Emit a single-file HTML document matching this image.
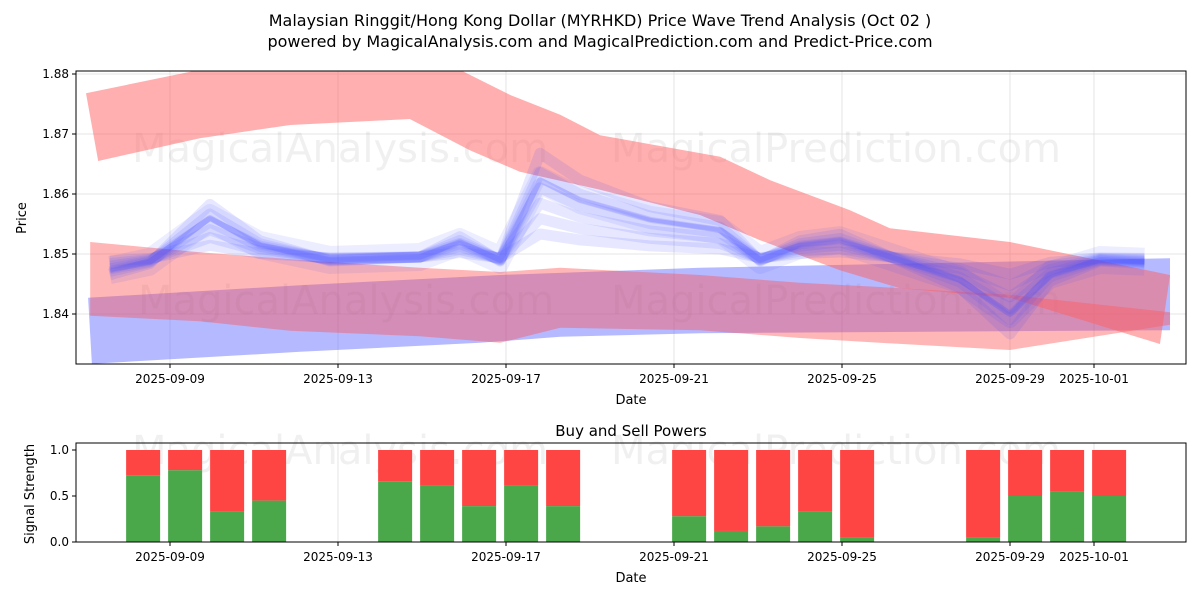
<!DOCTYPE html>
<html><head><meta charset="utf-8"><style>
body{margin:0;background:#fff;font-family:"Liberation Sans","DejaVu Sans",sans-serif}
svg text{font-family:"DejaVu Sans","Liberation Sans",sans-serif}
</style></head><body>
<svg id="c" width="1200" height="600" xmlns="http://www.w3.org/2000/svg">
<text x="600" y="26" text-anchor="middle" font-size="16">Malaysian Ringgit/Hong Kong Dollar (MYRHKD) Price Wave Trend Analysis (Oct 02 )</text>
<text x="600" y="47" text-anchor="middle" font-size="16">powered by MagicalAnalysis.com and MagicalPrediction.com and Predict-Price.com</text>
<g id="topg"></g>
<g id="botg"></g>
</svg>
<script>
const xTickLabels=["2025-09-09","2025-09-13","2025-09-17","2025-09-21","2025-09-25","2025-09-29","2025-10-01"];
const xTickDays=[0,4,8,12,16,20,22];
const yTicks=[1.84,1.85,1.86,1.87,1.88];
const redTopUpper=[[-2,1.8768],[0.71,1.8807],[6.9,1.8807],[8.1,1.8765],[9.29,1.8732],[10.24,1.8698],[13.1,1.8662],[14.29,1.8623],[16.19,1.8573],[17.14,1.8543],[20,1.852],[23.81,1.8465]];
const redTopLower=[[-1.71,1.8655],[0.71,1.8693],[2.86,1.8715],[5.71,1.8725],[7.14,1.8673],[8.33,1.8637],[10.24,1.8607],[12.62,1.8565],[14.05,1.8523],[15.95,1.8473],[17.38,1.8443],[20,1.8427],[23.57,1.835]];
const redLowUpper=[[-1.9,1.852],[0.71,1.8503],[3.1,1.849],[5.95,1.8477],[7.86,1.847],[9.29,1.8477],[12.62,1.8465],[15,1.8452],[16.9,1.8445],[20,1.8432],[23.81,1.8403]];
const redLowLower=[[-1.9,1.8397],[0.71,1.8388],[2.86,1.8372],[5.95,1.8363],[7.86,1.8352],[9.29,1.8377],[12.62,1.8373],[15,1.836],[16.9,1.8352],[20,1.834],[23.81,1.8382]];
const blueUpper=[[-1.95,1.8427],[3.1,1.8448],[7.86,1.8465],[12.62,1.8477],[23.81,1.8493]];
const blueLower=[[-1.86,1.8317],[3.1,1.8337],[7.38,1.8352],[9.29,1.8362],[12.62,1.8368],[23.81,1.8373]];
const waveDays=[-1.43,-0.48,0.95,2.14,3.81,5.95,6.9,7.86,8.81,9.76,11.43,13.1,14.05,15,15.95,17.38,18.81,20,20.95,22.14,23.2];
const waveVals=[1.8473,1.8487,1.856,1.8515,1.849,1.8495,1.852,1.849,1.8623,1.859,1.8557,1.854,1.849,1.8515,1.8523,1.849,1.8457,1.840,1.8465,1.849,1.8487];
const barDays=[-0.64,0.36,1.36,2.36,5.36,6.36,7.36,8.36,9.36,12.36,13.36,14.36,15.36,16.36,19.36,20.36,21.36,22.36];
const buyVals=[0.72,0.78,0.33,0.45,0.66,0.61,0.39,0.61,0.39,0.28,0.12,0.17,0.33,0.05,0.05,0.5,0.55,0.5];
const sigTicks=[0,0.5,1.0];

const NS="http://www.w3.org/2000/svg";
const L=76,R=1186,T=71,B=364,BT=443,BB=542;
const X=d=>170+42*d;
const Y=p=>314-(p-1.84)*6000;
const YB=v=>542-v*92;
function mk(tag,attrs,parent){const e=document.createElementNS(NS,tag);for(const k in attrs)e.setAttribute(k,attrs[k]);parent.appendChild(e);return e;}
const topG=document.getElementById('topg'),botG=document.getElementById('botg');
const defs=mk('defs',{},topG);
const cp=mk('clipPath',{id:'cp'},defs);mk('rect',{x:L,y:T,width:R-L,height:B-T},cp);

function frame(g,y0,y1){
  xTickDays.forEach((d,i)=>{
    const gl=mk('line',{x1:X(d),x2:X(d),y1:y0,y2:y1,stroke:'#ddd','stroke-width':0.8},g);
    
    mk('line',{x1:X(d),x2:X(d),y1:y1,y2:y1+4,stroke:'#000'},g);
    const t=mk('text',{x:X(d),y:y1+19,'text-anchor':'middle','font-size':12},g);t.textContent=xTickLabels[i];
    
  });
}
frame(topG,T,B);
yTicks.forEach(p=>{
  mk('line',{x1:L,x2:R,y1:Y(p),y2:Y(p),stroke:'#ddd','stroke-width':0.8},topG);
  mk('line',{x1:L-4,x2:L,y1:Y(p),y2:Y(p),stroke:'#000'},topG);
  const t=mk('text',{x:L-7,y:Y(p)+4,'text-anchor':'end','font-size':12},topG);t.textContent=p.toFixed(2);
  
});
[[340,150,'MagicalAnalysis.com'],[836,150,'MagicalPrediction.com'],[346,302,'MagicalAnalysis.com'],[836,302,'MagicalPrediction.com'],[340,452,'MagicalAnalysis.com'],[836,452,'MagicalPrediction.com']].forEach(w=>{
  const t=mk('text',{x:w[0],y:w[1]+12,'text-anchor':'middle','font-size':40,fill:'#000','fill-opacity':0.06},topG);t.textContent=w[2];
  
});
const plot=mk('g',{'clip-path':'url(#cp)'},topG);
function band(up,lo,color,op,name){
  const pts=up.concat(lo.slice().reverse()).map(p=>X(p[0])+','+Y(p[1])).join(' ');
  const e=mk('polygon',{points:pts,fill:color,'fill-opacity':op},plot);
  
}
band(blueUpper,blueLower,'#5a64ff',0.45,'blue-trend-band');
band(redLowUpper,redLowLower,'#ff5050',0.42,'red-lower-band');
band(redTopUpper,redTopLower,'#ff6060',0.5,'red-upper-band');
const mean=1.8495;
[0.3,0.5,0.7,0.9,1.1,1.35].forEach(f=>{
  const d=waveDays.map((dd,i)=>(i?'L':'M')+X(dd)+','+Y(mean+(waveVals[i]-mean)*f)).join(' ');
  const e=mk('path',{d:d,fill:'none',stroke:'#4650ff','stroke-opacity':0.13,'stroke-width':11,'stroke-linejoin':'round'},plot);
  
});
[[-6,16,0.1],[6,16,0.1],[0,6,0.18]].forEach(s=>{
  const d=waveDays.map((dd,i)=>(i?'L':'M')+X(dd)+','+(Y(waveVals[i])+s[0])).join(' ');
  const e=mk('path',{d:d,fill:'none',stroke:'#4650ff','stroke-opacity':s[2],'stroke-width':s[1],'stroke-linejoin':'round'},plot);
  
});
mk('rect',{x:L,y:T,width:R-L,height:B-T,fill:'none',stroke:'#000','stroke-width':1},topG);
let t=mk('text',{x:631,y:404,'text-anchor':'middle','font-size':13},topG);t.textContent='Date';

t=mk('text',{x:26,y:218,'text-anchor':'middle','font-size':13,transform:'rotate(-90 26 218)'},topG);t.textContent='Price';


frame(botG,BT,BB);
sigTicks.forEach(v=>{
  mk('line',{x1:L-4,x2:L,y1:YB(v),y2:YB(v),stroke:'#000'},botG);
  const tt=mk('text',{x:L-7,y:YB(v)+4,'text-anchor':'end','font-size':12},botG);tt.textContent=v.toFixed(1);
  
});
barDays.forEach((d,i)=>{
  const x=X(d)-17,w=34;
  const g=buyVals[i];
  const r1=mk('rect',{x:x,y:YB(1),width:w,height:YB(g)-YB(1),fill:'#ff4444'},botG);
  
  const r2=mk('rect',{x:x,y:YB(g),width:w,height:YB(0)-YB(g),fill:'#4aa84a'},botG);
  
});
mk('rect',{x:L,y:BT,width:R-L,height:BB-BT,fill:'none',stroke:'#000','stroke-width':1},botG);
t=mk('text',{x:631,y:436,'text-anchor':'middle','font-size':15},botG);t.textContent='Buy and Sell Powers';

t=mk('text',{x:631,y:582,'text-anchor':'middle','font-size':13},botG);t.textContent='Date';

t=mk('text',{x:34,y:494,'text-anchor':'middle','font-size':13,transform:'rotate(-90 34 494)'},botG);t.textContent='Signal Strength';

</script>
</body></html>
